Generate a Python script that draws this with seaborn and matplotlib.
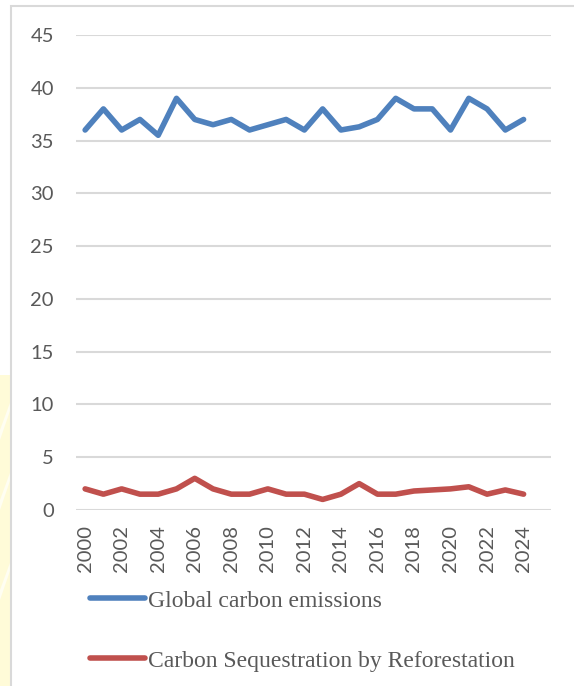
import matplotlib
matplotlib.use("Agg")
import matplotlib.pyplot as plt
from matplotlib.patches import Rectangle, Polygon
import seaborn as sns
import pandas as pd

years = [str(y) for y in range(2000, 2026)]
global_emissions = [36, 38, 36, 37, 35.5, 39, 37, 36.5, 37, 36, 36.5, 37, 36,
                    38, 36, 36.3, 37, 39, 38, 38, 36, 39, 38, 36, 37, None]
reforestation = [2.0, 1.5, 2.0, 1.5, 1.5, 2.0, 3.0, 2.0, 1.5, 1.5, 2.0, 1.5, 1.5,
                 1.0, 1.5, 2.5, 1.5, 1.5, 1.8, 1.9, 2.0, 2.2, 1.5, 1.9, 1.5, None]
series_names = ["Global carbon emissions", "Carbon Sequestration by Reforestation"]
series_colors = ["#4F81BD", "#C0504D"]
y_ticks = [0, 5, 10, 15, 20, 25, 30, 35, 40, 45]

df = pd.DataFrame({"year": years, series_names[0]: global_emissions,
                   series_names[1]: reforestation})
long = df.melt(id_vars="year", var_name="series", value_name="value")
long["pos"] = long["year"].map({y: i for i, y in enumerate(years)})

sns.set_theme(style="white")
plt.rcParams["font.family"] = ["Lato", "DejaVu Sans"]

fig = plt.figure(figsize=(5.74, 6.86), dpi=100)
W, H = 574, 686


def fx(px):
    return px / W


def fy(py):
    return 1 - py / H


# pale yellow strip on the left edge, with a few lighter diagonal bands
fig.patches.append(Rectangle((0, 0), fx(11), fy(375), transform=fig.transFigure,
                             facecolor="#FFFBD8", edgecolor="none", zorder=-5))
for y0 in (400, 470, 560):
    band = [(fx(0), fy(y0 + 30)), (fx(11), fy(y0)), (fx(11), fy(y0 + 8)),
            (fx(0), fy(y0 + 40))]
    fig.patches.append(Polygon(band, closed=True, transform=fig.transFigure,
                               facecolor="#FFFEF2", edgecolor="none", zorder=-4))
# chart frame
fig.patches.append(Rectangle((fx(11), -0.01), 1.0, fy(6) + 0.01,
                             transform=fig.transFigure, facecolor="none",
                             edgecolor="#D9D9D9", linewidth=1.5, zorder=-3))

ax = fig.add_axes([fx(76), fy(510), fx(551) - fx(76), fy(35) - fy(510)])
ax.patch.set_alpha(0)
ax.set_zorder(2)

sns.lineplot(data=long, x="pos", y="value", hue="series", hue_order=series_names,
             palette=series_colors, linewidth=4, ax=ax, legend=False)
for ln in ax.get_lines():
    ln.set_solid_capstyle("round")
    ln.set_solid_joinstyle("round")

ax.set_xlim(-0.5, len(years) - 0.5)
ax.set_ylim(0, 45)
ax.set_yticks(y_ticks)
ax.set_yticklabels([str(t) for t in y_ticks])
ax.set_xticks(range(0, 25, 2))
ax.set_xticklabels(years[0:25:2], rotation=90)
ax.grid(axis="y", color="#D9D9D9", linewidth=1.5)
ax.grid(axis="x", visible=False)
ax.set_axisbelow(True)
for s in ax.spines.values():
    s.set_visible(False)
ax.tick_params(axis="both", length=0, labelsize=14.5, labelcolor="#595959")
ax.tick_params(axis="y", pad=16)
ax.tick_params(axis="x", pad=11)
ax.set_xlabel("")
ax.set_ylabel("")

# legend below the chart
handles = [plt.Line2D([], [], color=c, linewidth=4, solid_capstyle="round")
           for c in series_colors]
leg = fig.legend(handles, series_names, loc="upper left",
                 bbox_to_anchor=(fx(90), fy(590)), frameon=False,
                 handlelength=2.35, handletextpad=0.12, labelspacing=1.63,
                 borderaxespad=0, borderpad=0,
                 prop={"family": "Liberation Serif", "size": 17})
for t in leg.get_texts():
    t.set_color("#595959")

fig.savefig("out.png", dpi=100)
